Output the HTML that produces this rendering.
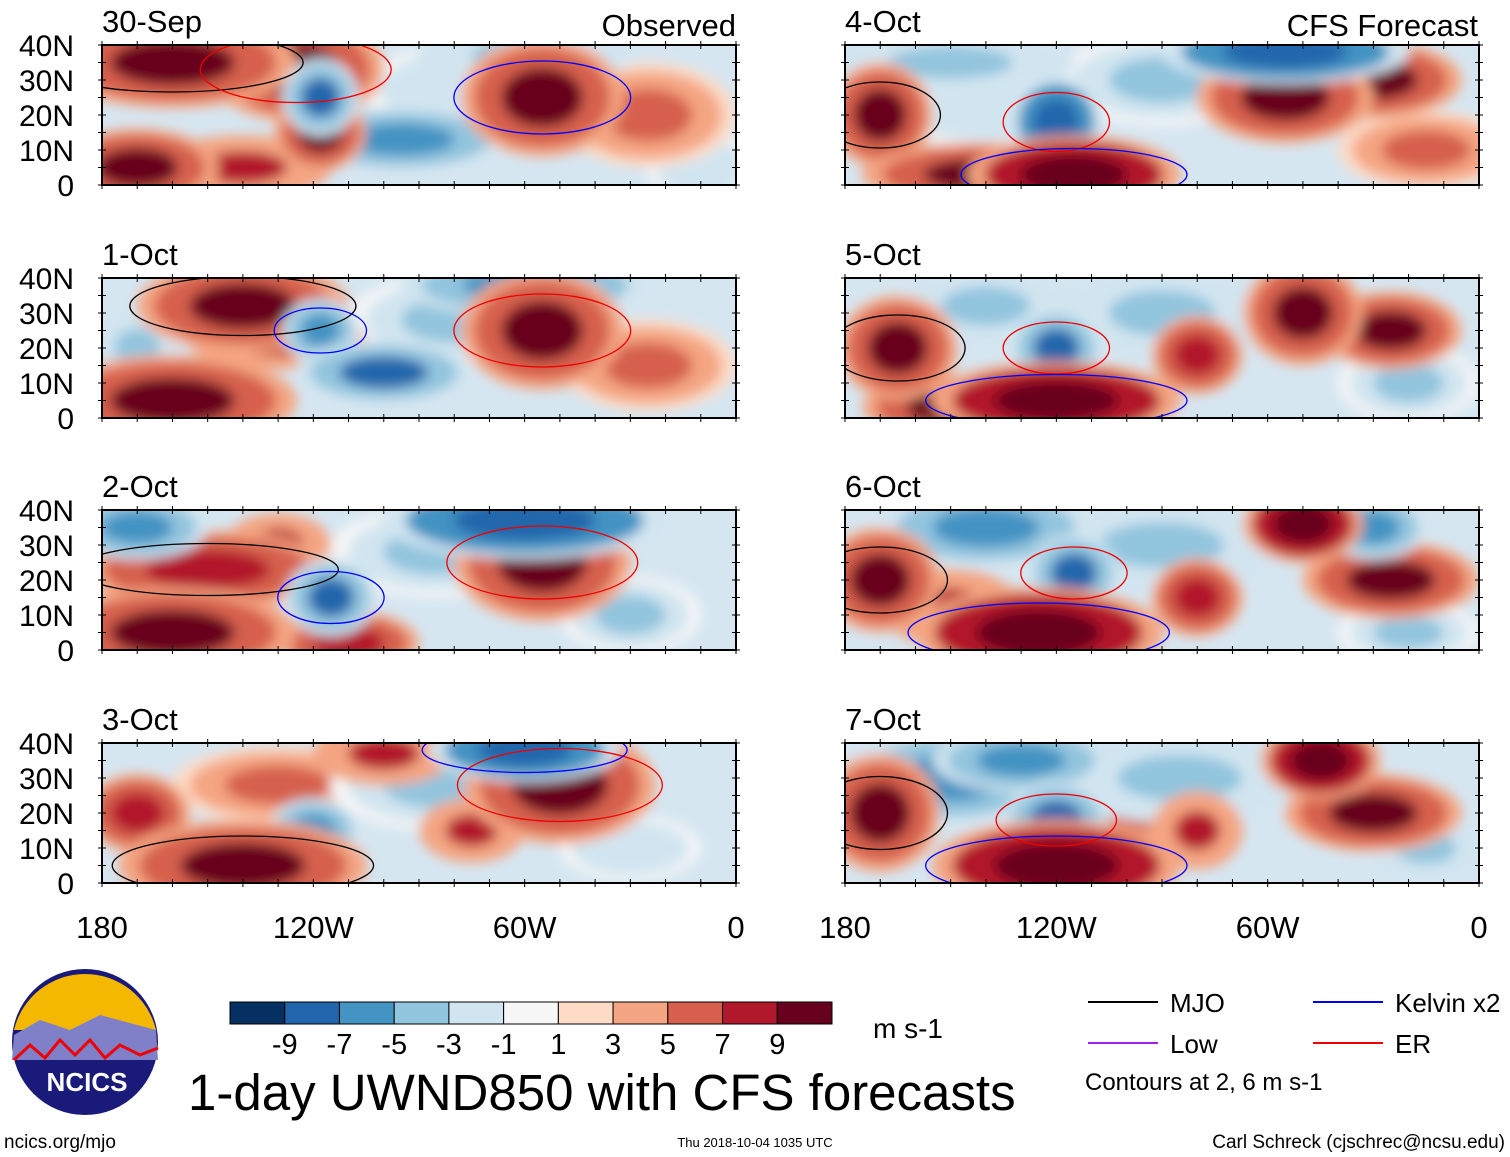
<!DOCTYPE html>
<html><head><meta charset="utf-8"><style>
body{margin:0;background:#fff;font-family:"Liberation Sans",sans-serif}
svg{display:block}
</style></head><body>
<svg id="c" width="1510" height="1157" xmlns="http://www.w3.org/2000/svg">
<defs>
<filter id="bl" x="-50%" y="-50%" width="200%" height="200%"><feGaussianBlur stdDeviation="6"/></filter>
</defs>
</svg>
<script>
const panelTitles=["30-Sep","1-Oct","2-Oct","3-Oct","4-Oct","5-Oct","6-Oct","7-Oct"];
const yTicks=["40N","30N","20N","10N","0"];
const xTicks=["180","120W","60W","0"];
const cbLabels=["-9","-7","-5","-3","-1","1","3","5","7","9"];
const cbColors=["#053061","#2166ac","#4393c3","#92c5de","#d1e5f0","#f7f7f7","#fddbc7","#f4a582","#d6604d","#b2182b","#67001f"];
// blobs: [lonW, lat, value(-10..10), width deg, height deg]
const blobs=[
[[160,35,9,30,10],[125,33,8,20,12],[55,25,9,18,14],[118,25,-9,6,8],[95,13,-7,25,6],[170,5,8,18,8],[118,15,8,8,8],[60,37,-6,25,6],[80,27,-4,20,10],[25,20,5,20,12],[140,5,6,20,6],[10,5,-4,10,8]],
[[140,32,8,25,10],[55,25,9,18,14],[118,25,-8,6,6],[100,13,-9,20,6],[160,5,9,30,10],[170,20,-6,8,8],[60,38,-8,30,6],[80,28,-5,25,10],[130,22,6,20,5],[25,15,4,20,10]],
[[150,23,7,30,8],[55,25,9,20,14],[115,15,-9,8,8],[160,5,9,30,10],[60,37,-10,35,8],[85,28,-5,25,10],[170,35,-7,15,6],[130,30,6,10,6],[30,10,-5,15,8],[110,2,7,15,6]],
[[140,5,9,30,10],[50,28,9,22,14],[60,38,-10,22,6],[120,15,-8,8,6],[170,20,7,10,8],[100,37,6,15,6],[85,28,-5,25,10],[130,28,4,25,8],[30,10,-4,15,6],[75,15,6,10,6]],
[[170,20,9,10,12],[120,18,-10,8,10],[115,3,10,25,8],[140,3,9,30,6],[55,25,9,20,10],[30,30,8,20,8],[55,38,-10,30,6],[150,35,-6,30,6],[90,30,-5,25,10],[15,10,5,20,8],[140,20,-4,20,6]],
[[165,20,9,12,12],[120,20,-9,8,8],[120,5,10,30,8],[150,3,8,20,6],[50,30,9,12,12],[25,25,8,15,8],[140,32,-6,20,8],[90,30,-6,25,10],[80,18,7,8,8],[20,10,-5,15,8]],
[[170,20,8,12,12],[115,22,-9,8,8],[125,5,10,30,10],[150,12,6,15,8],[50,36,10,12,8],[25,20,8,20,8],[140,35,-7,25,8],[90,30,-6,30,10],[80,15,7,8,8],[30,35,-8,10,6],[20,5,-5,15,6]],
[[170,20,8,12,14],[120,18,-9,10,8],[120,5,10,30,10],[150,30,-7,25,10],[130,35,-8,20,6],[45,35,10,12,8],[30,20,8,20,8],[85,30,-6,30,10],[80,15,6,8,8],[15,10,-6,12,6],[100,20,5,12,10]]
];
const NS="http://www.w3.org/2000/svg";
const svg=document.getElementById('c');
function el(tag,attrs,parent){const e=document.createElementNS(NS,tag);for(const k in attrs)e.setAttribute(k,attrs[k]);(parent||svg).appendChild(e);return e;}
function colorFor(v){let i=Math.round((v+11)/2);i=Math.max(0,Math.min(10,i));return cbColors[i];}
const PW=634,PH=140;
const px=[102,845],py=[45,278,510,743];
for(let p=0;p<8;p++){
  const x0=px[p<4?0:1],y0=py[p%4];
  const xs=lon=>x0+(180-lon)/180*PW, ys=lat=>y0+PH-lat/40*PH;
  const g=el('g',{});
  
  
  const cid='clip'+p;
  const cp=el('clipPath',{id:cid},g);el('rect',{x:x0,y:y0,width:PW,height:PH},cp);
  const inner=el('g',{'clip-path':'url(#'+cid+')'},g);
  el('rect',{x:x0,y:y0,width:PW,height:PH,fill:'#d6e6f1'},inner);
  const bg=el('g',{filter:'url(#bl)'},inner);
  const sorted=blobs[p].slice().sort((a,b)=>Math.abs(a[2])-Math.abs(b[2]));
  sorted.forEach(b=>{
    const [lon,lat,v,w,h]=b;
    const cx=xs(lon),cy=ys(lat),rx=w/180*PW*0.85+14,ry=h/40*PH*0.8+10;
    const e1=el('ellipse',{cx,cy,rx:rx*1.2,ry:ry*1.2,fill:colorFor(v*0.35)},bg);
    
    
    el('ellipse',{cx,cy,rx,ry,fill:colorFor(v*0.65)},bg);
    el('ellipse',{cx,cy,rx:rx*0.6,ry:ry*0.6,fill:colorFor(v)},bg);
  });
  blobs[p].slice(0,3).forEach((b,i)=>{
    const [lon,lat,v,w,h]=b;
    el('ellipse',{cx:xs(lon),cy:ys(lat),rx:w/180*PW+25,ry:h/40*PH/2+12,fill:'none',stroke:['#000','#e00','#00f'][i],'stroke-width':1.3},inner);
  });
  el('rect',{x:x0,y:y0,width:PW,height:PH,fill:'none',stroke:'#000','stroke-width':2},g);
  for(let l=0;l<=180;l+=10){const x=xs(l);el('line',{x1:x,y1:y0-4,x2:x,y2:y0+4,stroke:'#000'},g);el('line',{x1:x,y1:y0+PH+4,x2:x,y2:y0+PH-4,stroke:'#000'},g);}
  for(let la=0;la<=40;la+=5){const y=ys(la);el('line',{x1:x0-4,y1:y,x2:x0+4,y2:y,stroke:'#000'},g);el('line',{x1:x0+PW+4,y1:y,x2:x0+PW-4,y2:y,stroke:'#000'},g);}
  const t=el('text',{x:x0,y:y0-13,'font-size':31},g);t.textContent=panelTitles[p];
  
  if(p<4){yTicks.forEach((s,i)=>{const tt=el('text',{x:74,y:y0+i*35+11,'font-size':30,'text-anchor':'end'},g);tt.textContent=s;});}
}
let t1=el('text',{x:736,y:36,'font-size':31,'text-anchor':'end'});t1.textContent='Observed';
let t2=el('text',{x:1478,y:36,'font-size':31,'text-anchor':'end'});t2.textContent='CFS Forecast';
[0,1].forEach(k=>{xTicks.forEach((s,i)=>{const tt=el('text',{x:px[k]+i*PW/3,y:938,'font-size':31,'text-anchor':'middle'});tt.textContent=s;});});
const cbx=230,cbw=602/11;
cbColors.forEach((c,i)=>{const r=el('rect',{x:cbx+i*cbw,y:1002,width:cbw,height:22,fill:c,stroke:'#000','stroke-width':1});
});
cbLabels.forEach((s,i)=>{const tt=el('text',{x:cbx+(i+1)*cbw,y:1054,'font-size':29,'text-anchor':'middle'});tt.textContent=s;});
let u=el('text',{x:873,y:1038,'font-size':28});u.textContent='m s-1';
let ti=el('text',{x:188,y:1110,'font-size':51});ti.textContent='1-day UWND850 with CFS forecasts';

[["MJO","#000",1088,1002],["Kelvin x2","#00f",1313,1002],["Low","#a020f0",1088,1043],["ER","#e00",1313,1043]].forEach(l=>{
 const ln=el('line',{x1:l[2],y1:l[3],x2:l[2]+70,y2:l[3],stroke:l[1],'stroke-width':2});
 
 const tt=el('text',{x:l[2]+82,y:l[3]+10,'font-size':26});tt.textContent=l[0];});
let ct=el('text',{x:1085,y:1090,'font-size':24});ct.textContent='Contours at 2, 6 m s-1';
el('circle',{cx:85,cy:1042,r:73,fill:'#1a1a7a'});
el('path',{d:'M14,1030 A73,73 0 0 1 156,1030 Z',fill:'#f5b800'});
el('path',{d:'M14,1035 L40,1020 L70,1030 L100,1015 L156,1030 L158,1060 L12,1060 Z',fill:'#8080c8'});
el('path',{d:'M14,1060 L30,1045 L45,1058 L60,1040 L75,1055 L90,1040 L105,1058 L120,1045 L140,1055 L158,1048',fill:'none',stroke:'#e00','stroke-width':3});
let lg=el('text',{x:87,y:1091,'font-size':26,'font-weight':'bold',fill:'#fff','text-anchor':'middle'});lg.textContent='NCICS';
let a=el('text',{x:4,y:1148,'font-size':19});a.textContent='ncics.org/mjo';
let b=el('text',{x:755,y:1147,'font-size':13,'text-anchor':'middle'});b.textContent='Thu 2018-10-04 1035 UTC';
let c=el('text',{x:1505,y:1148,'font-size':19,'text-anchor':'end'});c.textContent='Carl Schreck (cjschrec@ncsu.edu)';
</script>
</body></html>
